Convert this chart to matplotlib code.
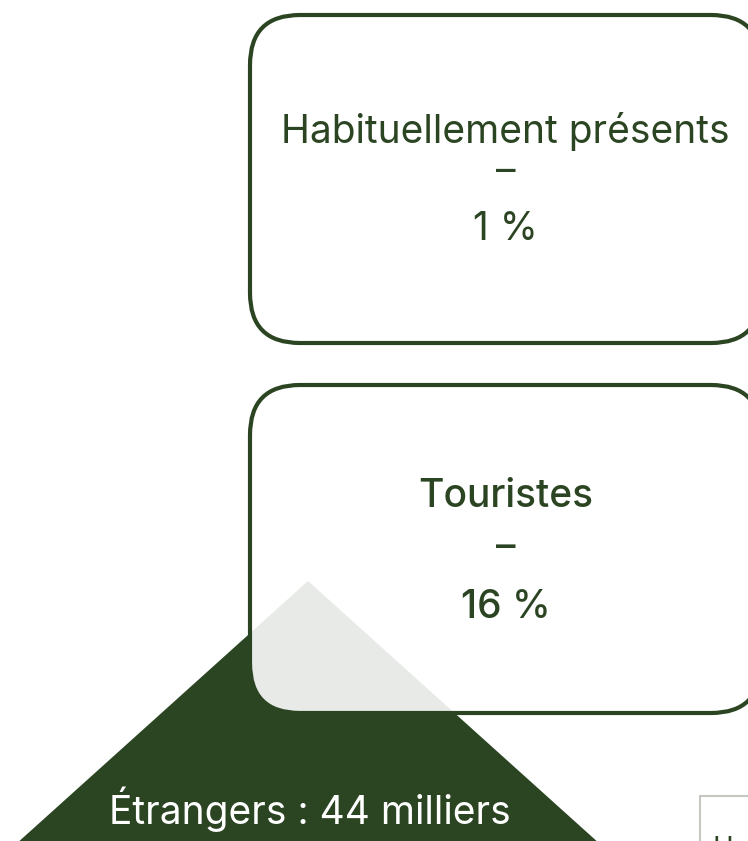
import matplotlib.pyplot as plt
from matplotlib.patches import FancyBboxPatch, Polygon, Rectangle

# data
categories = ["Habituellement présents", "Touristes"]
shares = [1, 16]  # %
foreign_label = "Étrangers"
foreign_total = 44  # milliers

green = '#2b4522'
plt.rcParams['font.family'] = ['Inter', 'DejaVu Sans']

fig = plt.figure(figsize=(7.48, 8.41), dpi=100)
ax = fig.add_axes([0, 0, 1, 1])
ax.set_xlim(0, 748)
ax.set_ylim(841, 0)
ax.axis('off')

# triangle behind the boxes
apex_x, apex_y = 308, 581
spread = 1.11
tri = Polygon([(apex_x, apex_y),
               (apex_x + spread * 320, apex_y + 320),
               (apex_x - spread * 320, apex_y + 320)],
              closed=True, facecolor=green, edgecolor='none', zorder=1)
ax.add_patch(tri)
ax.text(apex_x + 2, 824, f"{foreign_label} : {foreign_total} milliers",
        color='white', fontsize=28, ha='center', va='baseline', zorder=2)

# boxes
box_left, box_width, box_h = 250, 511, 328
box_tops = [15, 385]
line_offsets = [(128, 157, 225), (122, 163, 233)]  # baselines / dash centre
weights = ['normal', 'medium']
sizes = [28, 28]
for cat, share, top, offs, w, fs in zip(categories, shares, box_tops,
                                        line_offsets, weights, sizes):
    box = FancyBboxPatch((box_left, top), box_width, box_h,
                         boxstyle='round,pad=0,rounding_size=50',
                         facecolor=(1, 1, 1, 0.89), edgecolor=green,
                         linewidth=3, zorder=3)
    ax.add_patch(box)
    cx = box_left + box_width / 2
    ax.text(cx, top + offs[0], cat, color=green, fontsize=fs,
            fontweight=w, ha='center', va='baseline', zorder=4)
    ax.text(cx, top + offs[1], '–', color=green, fontsize=fs,
            fontweight=w, ha='center', va='center', zorder=4)
    ax.text(cx, top + offs[2], f"{share} %", color=green, fontsize=fs,
            fontweight=w, ha='center', va='baseline', zorder=4)

# partial tooltip at the bottom right
ax.add_patch(Rectangle((700, 796), 80, 80, facecolor='white',
                       edgecolor='#c4c8c0', linewidth=1.5, zorder=5))
ax.text(713, 835, categories[0], color=green, fontsize=20,
        ha='left', va='top', zorder=6)

fig.savefig('out.png', dpi=100)
